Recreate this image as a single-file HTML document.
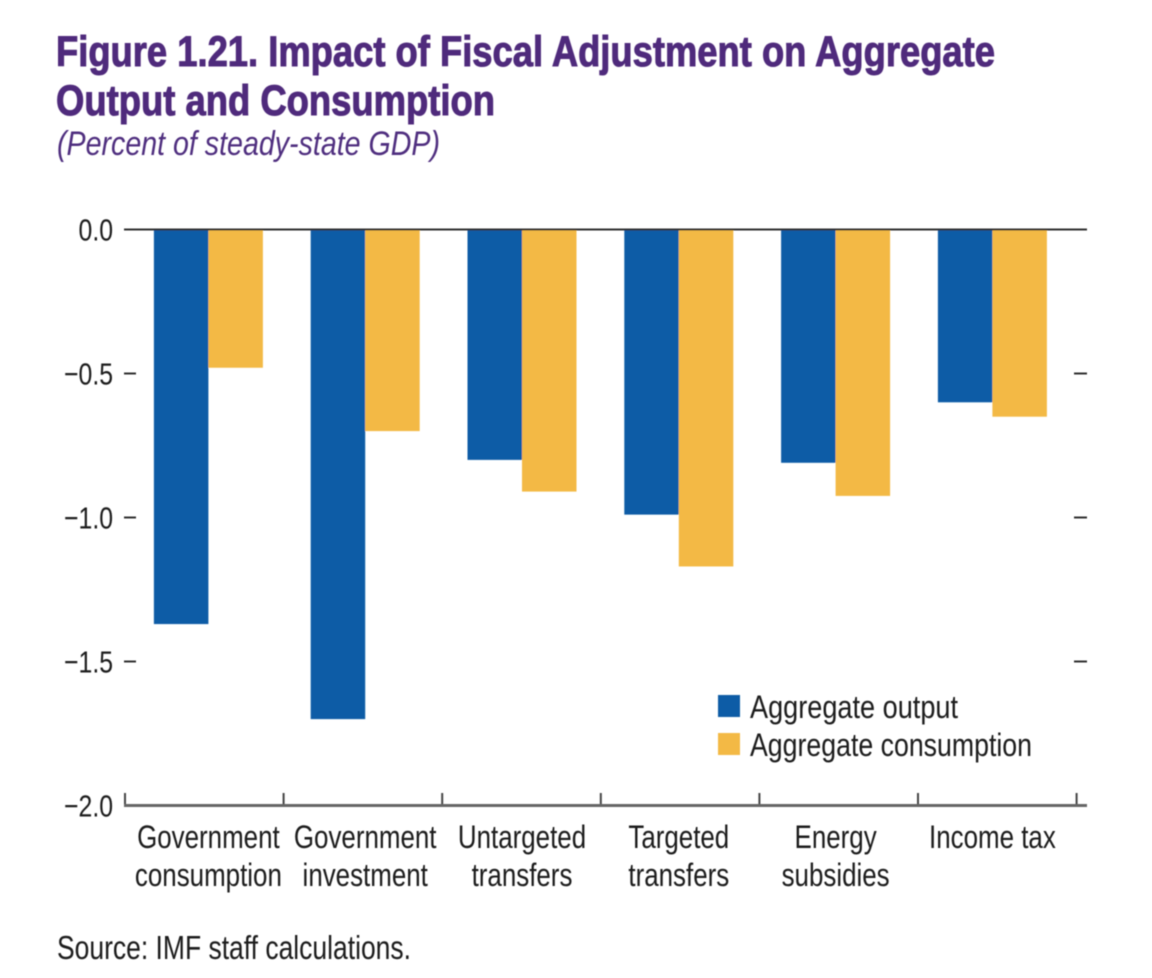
<!DOCTYPE html>
<html>
<head>
<meta charset="utf-8">
<title>Figure 1.21</title>
<style>
html,body{margin:0;padding:0;background:#fff;}
svg{display:block;}
text{font-family:"Liberation Sans",sans-serif;}
</style>
</head>
<body>
<svg id="chart" width="1152" height="978" viewBox="0 0 1152 978" xmlns="http://www.w3.org/2000/svg">
<defs><filter id="soft" x="-5%" y="-5%" width="110%" height="110%"><feGaussianBlur stdDeviation="0.55"/></filter></defs>
<rect x="0" y="0" width="1152" height="978" fill="#ffffff"/>
<g id="root" filter="url(#soft)">
<text x="56" y="66" font-size="43" font-weight="bold" fill="#4f2a7c" stroke="#4f2a7c" stroke-width="1" textLength="939" lengthAdjust="spacingAndGlyphs">Figure 1.21. Impact of Fiscal Adjustment on Aggregate</text>
<text x="56" y="115" font-size="43" font-weight="bold" fill="#4f2a7c" stroke="#4f2a7c" stroke-width="1" textLength="439" lengthAdjust="spacingAndGlyphs">Output and Consumption</text>
<text x="57" y="155" font-size="34" font-style="italic" fill="#4f2f7f" textLength="383" lengthAdjust="spacingAndGlyphs">(Percent of steady-state GDP)</text>
<g id="bars"></g>
<g id="axes"></g>
<rect x="718" y="695" width="22" height="22" fill="#0b5ca6"/>
<text x="750" y="718" font-size="32" fill="#1a1a1a" textLength="208" lengthAdjust="spacingAndGlyphs">Aggregate output</text>
<rect x="718" y="733" width="22" height="22" fill="#f3b945"/>
<text x="750" y="756" font-size="32" fill="#1a1a1a" textLength="282" lengthAdjust="spacingAndGlyphs">Aggregate consumption</text>
<text x="57" y="959" font-size="33" fill="#1a1a1a" textLength="354" lengthAdjust="spacingAndGlyphs">Source: IMF staff calculations.</text>
</g>
</svg>
<script>
const categories = [["Government","consumption"],["Government","investment"],["Untargeted","transfers"],["Targeted","transfers"],["Energy","subsidies"],["Income tax"]];
const aggregateOutput = [-1.37,-1.70,-0.80,-0.99,-0.81,-0.60];
const aggregateConsumption = [-0.48,-0.70,-0.91,-1.17,-0.925,-0.65];
const yTicks = [0,-0.5,-1.0,-1.5,-2.0];

const NS = 'http://www.w3.org/2000/svg';
const barsLayer = document.getElementById('bars');
const axesLayer = document.getElementById('axes');
const yScale = v => 229.5 - v * 288;
const bandCenter = i => 208.4 + 156.8 * i;
const tickX = i => 125 + 158.6 * i;
const BAR_W = 54.5;

function make(tag, parent, attrs) {
  const el = document.createElementNS(NS, tag);
  for (const k in attrs) el.setAttribute(k, attrs[k]);
  parent.appendChild(el);
  return el;
}
function condensedText(parent, str, x, y, size, anchor, factor) {
  const el = make('text', parent, {
    transform: 'translate(' + x + ' ' + y + ') scale(' + factor + ' 1)',
    'font-size': size, 'text-anchor': anchor, fill: '#1a1a1a'
  });
  el.textContent = str;
  return el;
}

categories.forEach((cat, i) => {
  const c = bandCenter(i);
  const r1 = make('rect', barsLayer, {x: c - BAR_W, y: yScale(0), width: BAR_W, height: yScale(aggregateOutput[i]) - yScale(0), fill: '#0b5ca6'});
  
  
  const r2 = make('rect', barsLayer, {x: c, y: yScale(0), width: BAR_W, height: yScale(aggregateConsumption[i]) - yScale(0), fill: '#f3b945'});
  
  
  cat.forEach((line, j) => {
    const t = condensedText(axesLayer, line, c, 848 + j * 38, 32, 'middle', 0.81);
    
    
  });
});

for (let i = 0; i <= categories.length; i++) {
  const t = make('line', axesLayer, {x1: tickX(i), x2: tickX(i), y1: 793, y2: 805, stroke: '#444', 'stroke-width': 2});
  
  
}

yTicks.forEach(v => {
  const y = yScale(v);
  const label = condensedText(axesLayer, v.toFixed(1).replace('-', '\u2212'), 113, y + 11, 31, 'end', 0.8);
  
  
  if (v !== 0 && v !== yTicks[yTicks.length - 1]) {
    const l = make('line', axesLayer, {x1: 124, x2: 136, y1: y, y2: y, stroke: '#333', 'stroke-width': 2});
    
    
    const r = make('line', axesLayer, {x1: 1074, x2: 1087, y1: y, y2: y, stroke: '#333', 'stroke-width': 2});
    
    
  }
});

const zero = make('line', axesLayer, {x1: 124, x2: 1087, y1: yScale(0), y2: yScale(0), stroke: '#333', 'stroke-width': 2});


const base = make('line', axesLayer, {x1: 124, x2: 1087, y1: yScale(-2), y2: yScale(-2), stroke: '#666', 'stroke-width': 3});


</script>
</body>
</html>
